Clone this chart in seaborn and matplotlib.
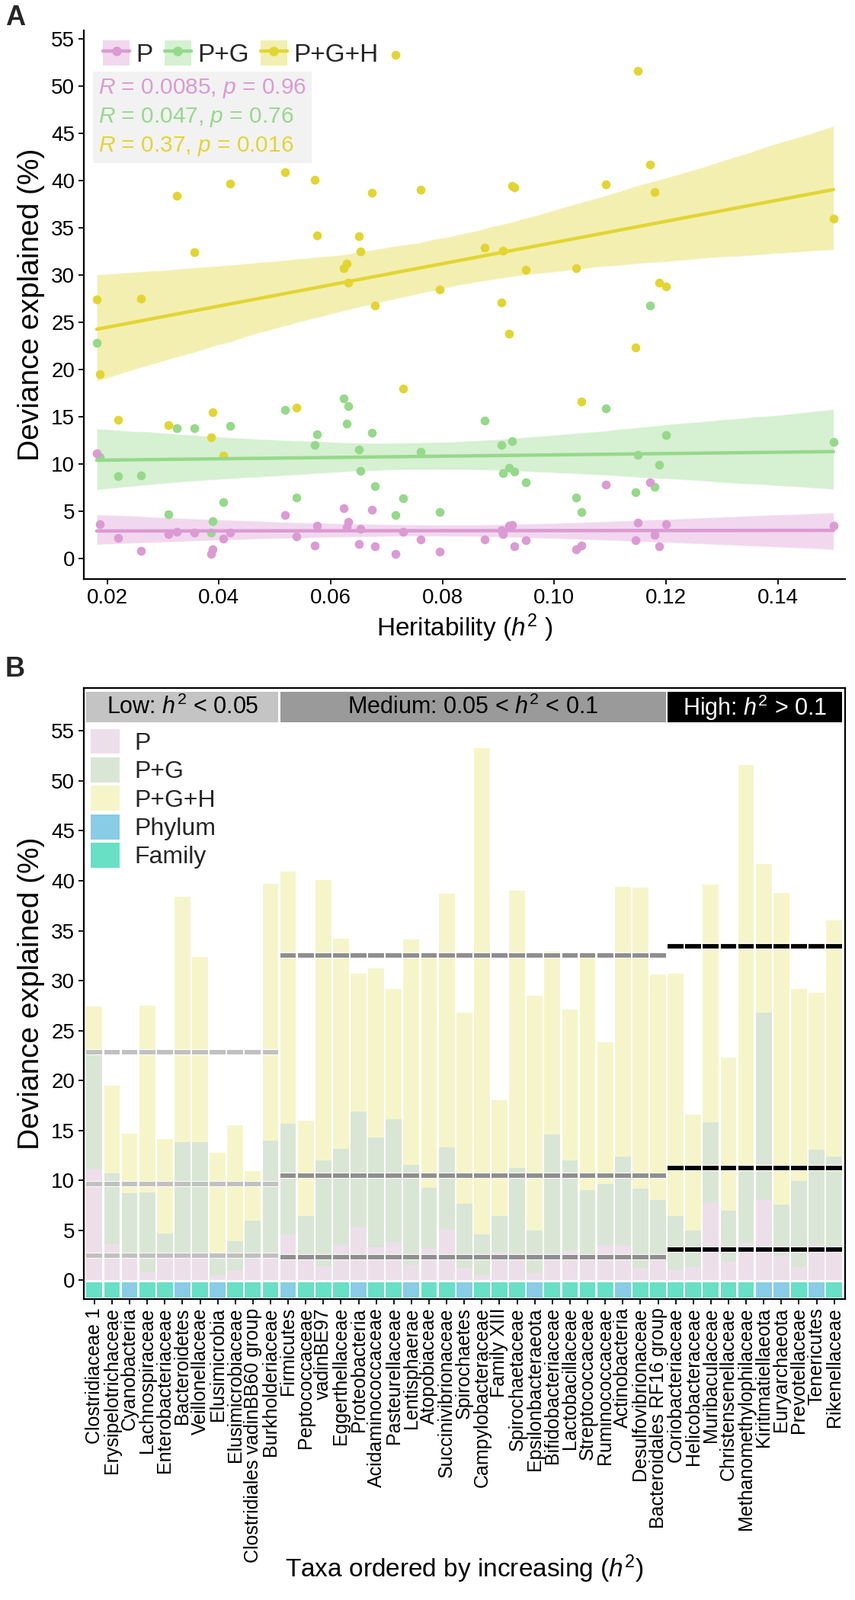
import numpy as np
import pandas as pd
import matplotlib
matplotlib.use("Agg")
import matplotlib.pyplot as plt
import matplotlib.patheffects as pe
import seaborn as sns
from matplotlib.patches import Patch, Rectangle
from matplotlib.lines import Line2D
from matplotlib.legend_handler import HandlerTuple
from matplotlib.offsetbox import AnchoredOffsetbox, TextArea, VPacker

# ---- data ----
taxa = ["Clostridiaceae 1", "Erysipelotrichaceae", "Cyanobacteria", "Lachnospiraceae",
        "Enterobacteriaceae", "Bacteroidetes", "Veillonellaceae", "Elusimicrobia",
        "Elusimicrobiaceae", "Clostridiales vadinBB60 group", "Burkholderiaceae",
        "Firmicutes", "Peptococcaceae", "vadinBE97", "Eggerthellaceae", "Proteobacteria",
        "Acidaminococcaceae", "Pasteurellaceae", "Lentisphaerae", "Atopobiaceae",
        "Succinivibrionaceae", "Spirochaetes", "Campylobacteraceae", "Family XIII",
        "Spirochaetaceae", "Epsilonbacteraeota", "Bifidobacteriaceae", "Lactobacillaceae",
        "Streptococcaceae", "Ruminococcaceae", "Actinobacteria", "Desulfovibrionaceae",
        "Bacteroidales RF16 group", "Coriobacteriaceae", "Helicobacteraceae",
        "Muribaculaceae", "Christensenellaceae", "Methanomethylophilaceae",
        "Kiritimatiellaeota", "Euryarchaeota", "Prevotellaceae", "Tenericutes",
        "Rikenellaceae"]
level = ["Family", "Family", "Phylum", "Family", "Family", "Phylum", "Family", "Phylum",
         "Family", "Family", "Family", "Phylum", "Family", "Family", "Family", "Phylum",
         "Family", "Family", "Phylum", "Family", "Family", "Phylum", "Family", "Family",
         "Family", "Phylum", "Family", "Family", "Family", "Family", "Phylum", "Family",
         "Family", "Family", "Family", "Family", "Family", "Family", "Phylum", "Phylum",
         "Family", "Phylum", "Family"]
h2 = [0.0181, 0.0187, 0.0220, 0.0261, 0.0310, 0.0325, 0.0356, 0.0386, 0.0388, 0.0407,
      0.0420, 0.0518, 0.0538, 0.0572, 0.0576, 0.0623, 0.0628, 0.0631, 0.0650, 0.0653,
      0.0673, 0.0679, 0.0716, 0.0729, 0.0761, 0.0795, 0.0875, 0.0906, 0.0908, 0.0919,
      0.0925, 0.0929, 0.0949, 0.1039, 0.1049, 0.1092, 0.1146, 0.1150, 0.1172, 0.1179,
      0.1188, 0.1200, 0.1500]
dev_p = [11.1, 3.6, 2.2, 0.8, 2.6, 2.8, 2.7, 0.5, 0.95, 2.1, 2.7, 4.6, 2.35, 1.4, 3.5,
         5.3, 3.3, 3.85, 1.55, 3.15, 5.15, 1.25, 0.45, 2.85, 2.05, 0.7, 2.05, 3.0, 2.6,
         3.45, 3.55, 1.25, 1.9, 1.0, 1.35, 7.8, 1.95, 3.75, 8.05, 2.5, 1.3, 3.6, 3.45]
dev_pg = [22.8, 10.7, 8.7, 8.8, 4.7, 13.8, 13.8, 2.7, 3.95, 5.95, 14.0, 15.7, 6.45, 12.0,
          13.15, 16.9, 14.3, 16.1, 11.55, 9.25, 13.3, 7.65, 4.6, 6.4, 11.25, 4.95, 14.6,
          12.0, 9.05, 9.6, 12.4, 9.15, 8.05, 6.45, 4.95, 15.85, 7.0, 11.0, 26.8, 7.55,
          9.95, 13.1, 12.35]
dev_pgh = [27.4, 19.5, 14.7, 27.5, 14.1, 38.4, 32.4, 12.8, 15.5, 10.9, 39.7, 40.9, 16.0,
           40.1, 34.2, 30.7, 31.2, 29.2, 34.1, 32.5, 38.7, 26.8, 53.3, 18.0, 39.0, 28.5,
           32.9, 27.1, 32.6, 23.8, 39.4, 39.3, 30.6, 30.7, 16.6, 39.6, 22.3, 51.6, 41.7,
           38.8, 29.2, 28.8, 36.0]

# group reference lines (Low / Medium / High heritability)
group_labels = [r"Low: $h^2$ < 0.05", r"Medium: 0.05 < $h^2$ < 0.1", r"High: $h^2$ > 0.1"]
group_p = [2.5, 2.3, 3.1]
group_pg = [9.6, 10.5, 11.2]
group_pgh = [22.8, 32.5, 33.4]

models = ["P", "P+G", "P+G+H"]
stats_text = [r"$R$ = 0.0085, $p$ = 0.96", r"$R$ = 0.047, $p$ = 0.76", r"$R$ = 0.37, $p$ = 0.016"]

df = pd.DataFrame({"taxon": taxa, "level": level, "h2": h2,
                   "P": dev_p, "P+G": dev_pg, "P+G+H": dev_pgh})
df["group"] = pd.cut(df["h2"], [0, 0.05, 0.1, 1], labels=[0, 1, 2]).astype(int)

line_cols = {"P": "#DB9AD3", "P+G": "#95D98A", "P+G+H": "#E2D531"}
bar_cols = {"P": "#EDDFEA", "P+G": "#D9E6D5", "P+G+H": "#F6F5CA"}
level_cols = {"Phylum": "#88CCE6", "Family": "#67E0C5"}
strip_cols = ["#C4C4C4", "#9A9A9A", "#000000"]
strip_text = ["black", "black", "white"]
dash_cols = ["#C0C0C0", "#8E8E8E", "#000000"]
narrow = ["Liberation Sans Narrow", "Liberation Sans", "DejaVu Sans"]

sns.set_theme(style="ticks")
plt.rcParams['font.family'] = ['Liberation Sans', 'DejaVu Sans']
plt.rcParams['mathtext.fontset'] = 'custom'
plt.rcParams['mathtext.rm'] = 'Liberation Sans'
plt.rcParams['mathtext.it'] = 'Liberation Sans:italic'
plt.rcParams['mathtext.bf'] = 'Liberation Sans:bold'

fig = plt.figure(figsize=(11.22, 21), dpi=100)

# ---------------- Panel A ----------------
ax1 = fig.add_axes([0.098, 0.638, 0.89, 0.343])
for m in ["P+G+H", "P+G", "P"]:
    sns.regplot(data=df, x="h2", y=m, ax=ax1, color=line_cols[m], ci=95, n_boot=2000, seed=7,
                scatter_kws=dict(s=70, alpha=1, linewidths=0, zorder=3),
                line_kws=dict(lw=3.2, zorder=4))
for coll in ax1.collections:
    if type(coll).__name__ in ("PolyCollection", "FillBetweenPolyCollection"):
        coll.set_alpha(0.38)
        coll.set_zorder(1)

ax1.set_xlim(0.0158, 0.152)
ax1.set_ylim(-2.2, 55.9)
ax1.set_xticks([0.02, 0.04, 0.06, 0.08, 0.10, 0.12, 0.14])
ax1.set_xticklabels(["0.02", "0.04", "0.06", "0.08", "0.10", "0.12", "0.14"])
ax1.set_yticks(range(0, 56, 5))
ax1.tick_params(labelsize=20, length=5, width=1.3, color="black", labelcolor="black")
for s in ["top", "right"]:
    ax1.spines[s].set_visible(False)
for s in ["left", "bottom"]:
    ax1.spines[s].set_linewidth(1.6)
    ax1.spines[s].set_color("black")
ax1.set_xlabel(r"Heritability ($h^2$ )", fontsize=24, color="black")
ax1.set_ylabel("Deviance explained (%)", fontsize=28, color="black", fontfamily=narrow,
               labelpad=6)

handles = [(Patch(facecolor=line_cols[m], alpha=0.38, edgecolor="none"),
            Line2D([], [], color=line_cols[m], lw=3.2, marker="o", ms=8)) for m in models]
ax1.legend(handles, models, handler_map={tuple: HandlerTuple(ndivide=1)}, ncol=3,
           loc="upper left", bbox_to_anchor=(0.012, 1.0), frameon=False, fontsize=24,
           handlelength=1.05, handleheight=1.15, columnspacing=0.45, handletextpad=0.25,
           borderaxespad=0)

boxes = [TextArea(t, textprops=dict(color=line_cols[m], fontsize=21.5)) for t, m in zip(stats_text, models)]
pack = VPacker(children=boxes, align="left", pad=0, sep=6)
anc = AnchoredOffsetbox(loc="upper left", child=pack, pad=0.45, borderpad=0,
                        bbox_to_anchor=(0.012, 0.925), bbox_transform=ax1.transAxes, frameon=True)
anc.patch.set_facecolor("#F2F2F2")
anc.patch.set_edgecolor("none")
anc.patch.set_boxstyle("square", pad=0)
ax1.add_artist(anc)

# ---------------- Panel B ----------------
ax2 = fig.add_axes([0.098, 0.188, 0.89, 0.382])
for m in ["P+G+H", "P+G", "P"]:
    sns.barplot(data=df, x="taxon", y=m, order=taxa, color=bar_cols[m], saturation=1,
                width=0.9, errorbar=None, linewidth=0, ax=ax2)

pos = np.arange(len(taxa))
ax2.bar(pos, -1.55, bottom=-0.22, width=0.9,
        color=[level_cols[l] for l in df["level"]], linewidth=0)

for g in range(3):
    idx = pos[df["group"].values == g]
    for val in (group_p[g], group_pg[g], group_pgh[g]):
        ax2.hlines([val] * len(idx), idx - 0.45, idx + 0.45, colors=dash_cols[g], lw=4.2,
                   zorder=5, path_effects=[pe.Stroke(linewidth=5.6, foreground="white"), pe.Normal()])
    x0, x1 = idx.min() - 0.45, idx.max() + 0.45
    ax2.add_patch(Rectangle((x0, 55.85), x1 - x0, 3.05, facecolor=strip_cols[g],
                            edgecolor="none", zorder=5))
    ax2.text((x0 + x1) / 2, 57.35, group_labels[g], ha="center", va="center",
             fontsize=22, color=strip_text[g], zorder=6)

ax2.set_xlim(-0.6, len(taxa) - 0.4)
ax2.set_ylim(-1.9, 59.3)
ax2.set_yticks(range(0, 56, 5))
ax2.tick_params(axis="y", labelsize=20, length=5, width=1.3, color="black", labelcolor="black")
ax2.tick_params(axis="x", labelsize=18, length=5, width=1.3, color="black", labelcolor="black",
                rotation=90, pad=3)
for lab in ax2.get_xticklabels():
    lab.set_ha("center")
    lab.set_va("top")
    lab.set_fontfamily(narrow)
for s in ax2.spines.values():
    s.set_visible(True)
    s.set_linewidth(1.6)
    s.set_color("black")
ax2.set_ylabel("Deviance explained (%)", fontsize=28, color="black", fontfamily=narrow,
               labelpad=6)
ax2.set_xlabel(r"Taxa ordered by increasing ($h^2$)", fontsize=24, color="black")
ax2.xaxis.set_label_coords(0.5, -0.415)

leg_handles = [Patch(facecolor=bar_cols[m], edgecolor="none") for m in models] + \
              [Patch(facecolor=level_cols[l], edgecolor="none") for l in ["Phylum", "Family"]]
ax2.legend(leg_handles, models + ["Phylum", "Family"], loc="upper left",
           bbox_to_anchor=(0.009, 0.933), frameon=False, fontsize=23, handlelength=1.2,
           handleheight=1.2, labelspacing=0.1, handletextpad=0.6, borderaxespad=0, borderpad=0)

fig.text(0.006, 0.997, "A", fontsize=26, fontweight="bold", va="top", ha="left")
fig.text(0.006, 0.590, "B", fontsize=26, fontweight="bold", va="top", ha="left")

fig.savefig("out.png", dpi=100)
